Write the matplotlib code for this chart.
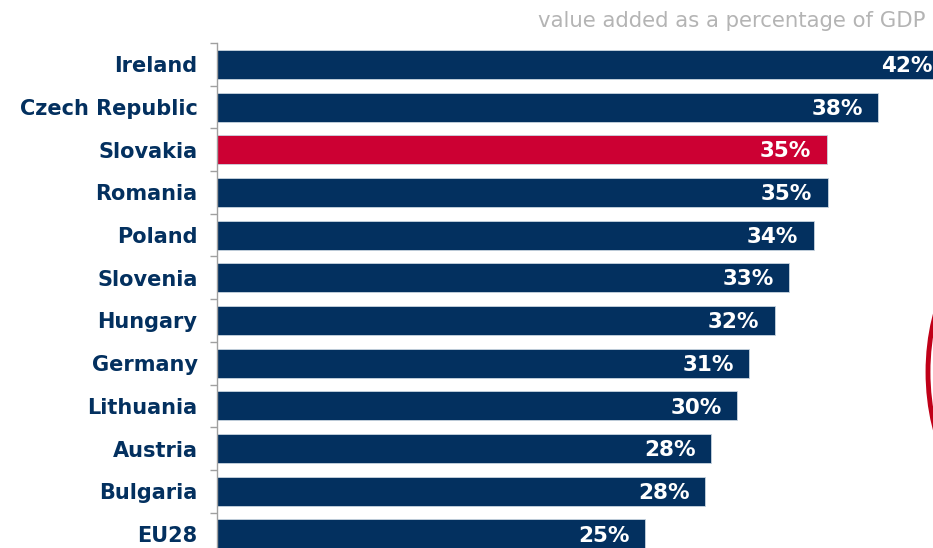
import matplotlib.pyplot as plt
from matplotlib.patches import Ellipse
import numpy as np

countries = ["Ireland", "Czech Republic", "Slovakia", "Romania", "Poland", "Slovenia",
             "Hungary", "Germany", "Lithuania", "Austria", "Bulgaria", "EU28"]
values = [42.0, 38.0, 35.05, 35.1, 34.3, 32.9, 32.05, 30.6, 29.9, 28.4, 28.05, 24.6]
labels = ["42%", "38%", "35%", "35%", "34%", "33%", "32%", "31%", "30%", "28%", "28%", "25%"]
highlight = "Slovakia"

navy = "#03305f"
red = "#cc0033"

fig = plt.figure(figsize=(9.33, 5.48), dpi=100)
ax = fig.add_axes([217 / 933, 0, 1 - 217 / 933, 1 - 43 / 548])

y = np.arange(len(countries))
colors = [red if c == highlight else navy for c in countries]
ax.barh(y, values, height=0.68, color=colors, edgecolor="#c8d4e0", linewidth=0.6)

for yi, v, lab in zip(y, values, labels):
    ax.text(v - 0.9, yi + 0.04, lab, ha="right", va="center", color="white",
            fontsize=15.5, fontweight="bold", clip_on=False)

ax.set_xlim(0, (933 - 217) / 17.4)
ax.set_ylim(11.33, -0.5)

ax.set_yticks(y)
ax.set_yticklabels(countries, fontsize=15, fontweight="bold", color=navy)
ax.tick_params(axis="y", which="major", length=0, pad=14)
ax.set_yticks(np.arange(len(countries)) - 0.5, minor=True)
ax.tick_params(axis="y", which="minor", length=5, color="#a0a0a0", width=1)
ax.set_xticks([])

for s in ["top", "right", "bottom"]:
    ax.spines[s].set_visible(False)
ax.spines["left"].set_color("#a0a0a0")
ax.spines["left"].set_linewidth(1)

fig.text(926 / 933, 1 - 21 / 548, "value added as a percentage of GDP", ha="right", va="center",
         color="#b4b4b4", fontsize=15.3)

# red circle outline partly visible at the right edge
fig.patches.append(Ellipse((1008 / 933, 1 - 372 / 548), 160 / 933, 276 / 548,
                           transform=fig.transFigure, fill=False, edgecolor="#c00018",
                           linewidth=3.5))

fig.savefig("out.png", dpi=100)
